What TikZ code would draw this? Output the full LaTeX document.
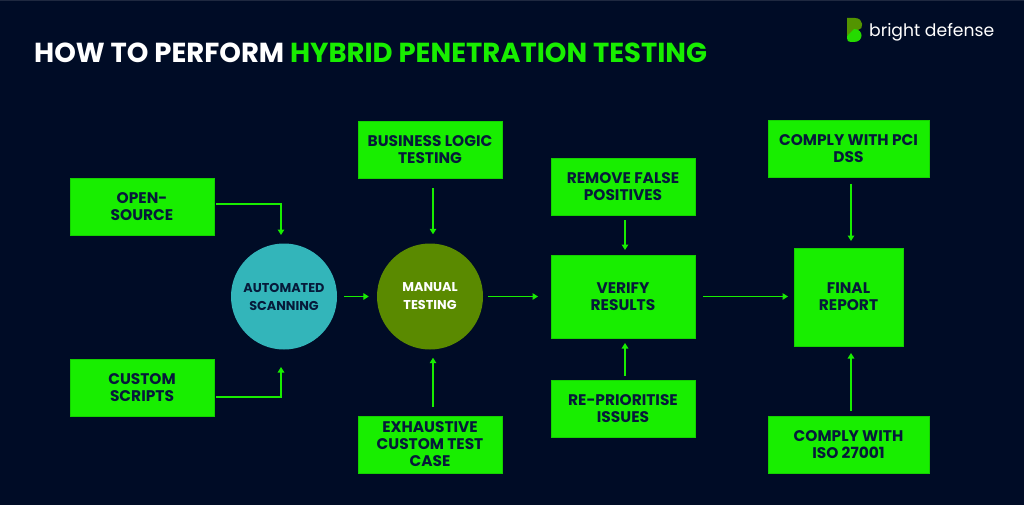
\documentclass[tikz,border=0pt]{standalone}
\usepackage{fontspec}
\setmainfont{Poppins}
\usetikzlibrary{arrows.meta}
\definecolor{bg}{HTML}{000C26}
\definecolor{lime}{HTML}{18EE00}
\definecolor{teal}{HTML}{33B5BA}
\definecolor{olive}{HTML}{5A8A00}
\definecolor{navy}{HTML}{061A3A}
\tikzset{
  box/.style={draw=lime!88!black,line width=0.5pt,fill=lime,text=navy,font=\fontsize{15.4}{17}\selectfont\bfseries,align=center,inner sep=0pt,anchor=north west},
  circ/.style={circle,draw=none,minimum size=106pt,inner sep=0pt,align=center,font=\fontsize{12.8}{18}\selectfont\bfseries},
  conn/.style={draw=lime,line width=1.3pt,-{Triangle[length=5.5pt,width=6.5pt]}}
}
\begin{document}
\begin{tikzpicture}[x=1pt,y=-1pt]
\useasboundingbox (0,0) rectangle (1024,505);
\fill[bg] (0,0) rectangle (1024,505);
\fill[white!12!bg] (0,0) rectangle (1024,1);
\node[anchor=west,inner sep=0pt,text=white,font=\fontsize{27.5}{30}\selectfont\bfseries] (title) at (34,53) {HOW TO PERFORM \textcolor{lime}{HYBRID PENETRATION TESTING}};
% logo
\fill[olive!90!lime] (847,18) -- (855,18) .. controls (864,18) and (864,30) .. (858,30) -- (847,36) -- cycle;
\fill[lime!80!olive] (847,36) -- (854,29) .. controls (864,29) and (864,42) .. (854,42) -- (851,42) .. controls (848,42) and (847,41) .. (847,38) -- cycle;
\node[anchor=west,inner sep=0pt,text=white,font=\fontsize{17.2}{20}\selectfont] (logo) at (869,32) {bright defense};
% boxes
\node[box,minimum width=143.5pt,minimum height=56.5pt] (open) at (70,178) {OPEN-\\SOURCE};
\node[box,minimum width=143.5pt,minimum height=56.5pt] (custom) at (70,359) {CUSTOM\\SCRIPTS};
\node[box,minimum width=143.5pt,minimum height=56.5pt] (biz) at (358,121) {BUSINESS LOGIC\\TESTING};
\node[box,minimum width=143.5pt,minimum height=56.5pt] (exh) at (358,416) {EXHAUSTIVE\\CUSTOM TEST\\CASE};
\node[box,minimum width=143.5pt,minimum height=56.5pt] (rem) at (551,158) {REMOVE FALSE\\POSITIVES};
\node[box,minimum width=143.5pt,minimum height=82.5pt] (ver) at (551,255) {VERIFY\\RESULTS};
\node[box,minimum width=143.5pt,minimum height=56.5pt] (re) at (551,380) {RE-PRIORITISE\\ISSUES};
\node[box,minimum width=160.5pt,minimum height=56.5pt] (pci) at (768,120.5) {COMPLY WITH PCI\\DSS};
\node[box,minimum width=108.5pt,minimum height=97.5pt] (fin) at (794,248) {FINAL\\REPORT};
\node[box,minimum width=160.5pt,minimum height=56.5pt] (iso) at (768,416) {COMPLY WITH\\ISO 27001};
% circles
\node[circ,fill=teal,text=navy] (auto) at (284,296.5) {AUTOMATED\\SCANNING};
\node[circ,fill=olive,text=white] (man) at (430,296.5) {MANUAL\\TESTING};
% connectors
\coordinate (autoT) at (281,235);
\coordinate (autoB) at (281,367);
\draw[conn,shorten <=2pt] ([yshift=2.5pt]open.east) -| (autoT);
\draw[conn,shorten <=2pt] ([yshift=-9.5pt]custom.east) -| (autoB);
\draw[conn,shorten <=7pt,shorten >=8pt] (auto.east) -- (man.west);
\draw[conn,shorten <=5pt,shorten >=13pt] (man.east) -- (man.east -| ver.west);
\draw[conn,shorten <=10pt,shorten >=9pt] ([xshift=3pt]biz.south) -- ([xshift=3pt]man.north);
\draw[conn,shorten <=9pt,shorten >=8pt] ([xshift=3pt]exh.north) -- ([xshift=3pt]man.south);
\draw[conn,shorten <=5pt,shorten >=5pt] ([xshift=2pt]rem.south) -- ([xshift=2pt]ver.north);
\draw[conn,shorten <=4pt,shorten >=5pt] ([xshift=2pt]re.north) -- ([xshift=2pt]ver.south);
\draw[conn,shorten <=8pt,shorten >=6pt] (ver.east) -- (ver.east -| fin.west);
\draw[conn,shorten <=6pt,shorten >=7pt] ([xshift=2.5pt]pci.south) -- ([xshift=2.5pt]fin.north);
\draw[conn,shorten <=5pt,shorten >=7pt] ([xshift=2.5pt]iso.north) -- ([xshift=2.5pt]fin.south);
\end{tikzpicture}
\end{document}
